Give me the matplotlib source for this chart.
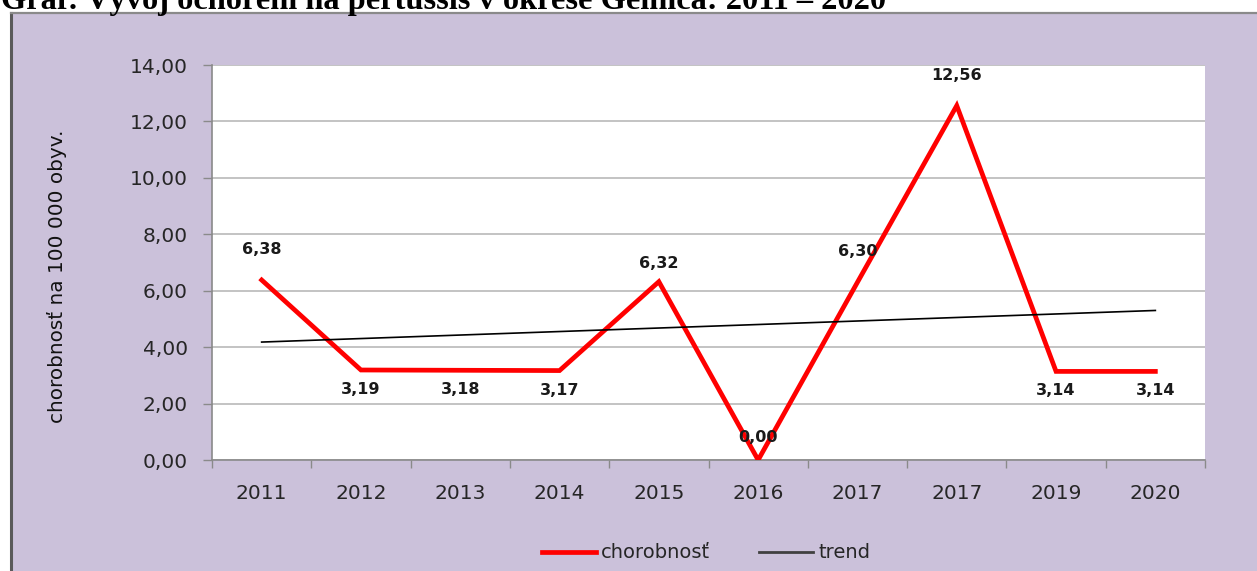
import matplotlib
matplotlib.use("Agg")
import matplotlib.pyplot as plt
from matplotlib.lines import Line2D
from matplotlib.patches import Rectangle
from matplotlib.ticker import FuncFormatter, FixedLocator

# ---- data ----
categories = ["2011", "2012", "2013", "2014", "2015", "2016", "2017", "2017", "2019", "2020"]
chorobnost = [6.38, 3.19, 3.18, 3.17, 6.32, 0.00, 6.30, 12.56, 3.14, 3.14]
trend_ends = [4.18, 5.30]          # linear trend at first and last category
value_labels = ["6,38", "3,19", "3,18", "3,17", "6,32", "0,00", "6,30", "12,56", "3,14", "3,14"]
yticks = [0, 2, 4, 6, 8, 10, 12, 14]

title = "Graf: Vývoj ochorení na pertussis v okrese Gelnica: 2011 – 2020"
ylabel = "chorobnosť na 100 000 obyv."
legend_names = ["chorobnosť", "trend"]

# ---- style ----
W, H, DPI = 1257, 571, 100
panel_col = "#CBC1DA"
fig = plt.figure(figsize=(W / DPI, H / DPI), dpi=DPI)
fig.patch.set_facecolor("white")

def px(x, y):
    return x / W, 1 - y / H

# lavender panel with borders
panel = Rectangle(px(12, 571), 1 - 12 / W, (571 - 13) / H, transform=fig.transFigure,
                  facecolor=panel_col, edgecolor="none", zorder=-5)
fig.add_artist(panel)
fig.add_artist(Line2D([11 / W, 11 / W], [0, 1 - 13 / H], color="#5a5a5a", lw=2.2,
                      transform=fig.transFigure, zorder=-4))
fig.add_artist(Line2D([11 / W, 1], [1 - 13 / H, 1 - 13 / H], color="#8a8a8a", lw=1.6,
                      transform=fig.transFigure, zorder=-4))

# title (partly cut at top, as in the source)
fig.text(1 / W, 1 - 9 / H, title, family="Liberation Serif", weight="bold",
         fontsize=23.3, va="baseline", ha="left", color="black")

left, right, top, bottom = 212, 1205, 65, 460
ax = fig.add_axes([left / W, 1 - bottom / H, (right - left) / W, (bottom - top) / H])
ax.set_facecolor("white")
ax.set_zorder(1)

x = list(range(len(categories)))
ax.plot(x, chorobnost, color="#FF0000", lw=3.4, solid_joinstyle="miter", zorder=3)
ax.plot([x[0], x[-1]], trend_ends, color="black", lw=1.2, zorder=4)

ax.set_xlim(-0.5, len(categories) - 0.5)
ax.set_ylim(0, 14)

ax.yaxis.set_major_locator(FixedLocator(yticks))
ax.yaxis.set_major_formatter(FuncFormatter(lambda v, p: f"{v:.2f}".replace(".", ",")))
ax.set_xticks(x)
ax.set_xticklabels(categories)
ax.set_xticks([i - 0.5 for i in range(len(categories) + 1)], minor=True)

ax.grid(axis="y", color="#C3C3C3", lw=1.4, zorder=1)
ax.set_axisbelow(True)

ax.tick_params(axis="x", which="major", length=0, pad=17, labelsize=14.5, labelcolor="#262626")
ax.tick_params(axis="x", which="minor", length=6, color="#8a8a8a", width=1)
ax.tick_params(axis="y", length=6.5, color="#8a8a8a", width=1, pad=11, labelsize=14.5,
               labelcolor="#262626")

for s in ["top", "right"]:
    ax.spines[s].set_visible(False)
for s in ["left", "bottom"]:
    ax.spines[s].set_color("#8a8a8a")
    ax.spines[s].set_linewidth(1.2)

# data labels
offsets = [22, -14, -14, -14, 13, 16, 22, 22, -14, -14]
for xi, yi, lab, off in zip(x, chorobnost, value_labels, offsets):
    ax.annotate(lab, (xi, yi), xytext=(0, off), textcoords="offset points",
                ha="center", va="center", fontsize=11.5, weight="bold", color="#1a1a1a",
                zorder=5, annotation_clip=False)

# y label
fig.text(57 / W, 1 - 276 / H, ylabel, rotation=90, ha="center", va="center",
         fontsize=14.4, color="#111111")

# legend
handles = [Line2D([], [], color="#FF0000", lw=3.4), Line2D([], [], color="#404040", lw=2)]
fig.legend(handles, legend_names, loc="center", bbox_to_anchor=px(706, 553), ncol=2,
           frameon=False, fontsize=14, handlelength=2.8, handletextpad=0.25,
           columnspacing=2.5, labelcolor="#262626")

fig.savefig("out.png", dpi=DPI, facecolor=fig.get_facecolor())
